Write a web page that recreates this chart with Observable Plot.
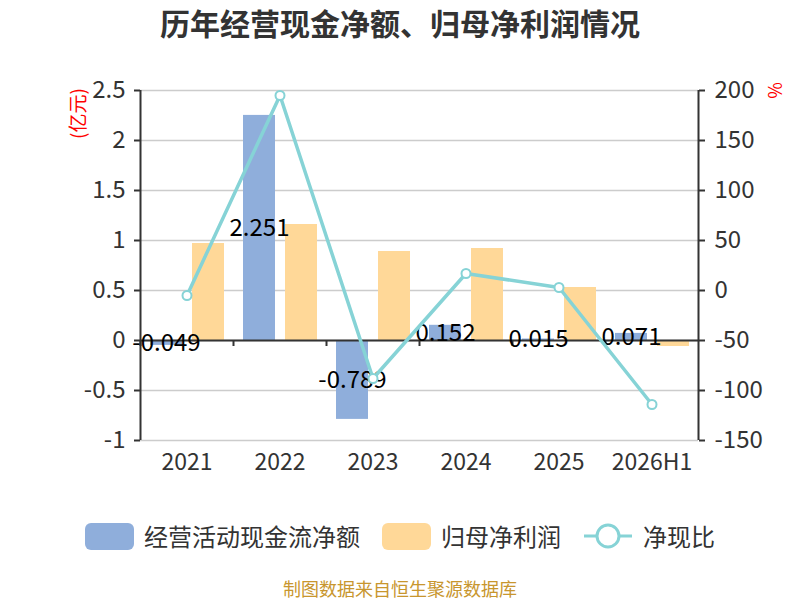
<!DOCTYPE html>
<html>
<head>
<meta charset="utf-8">
<script src="https://cdn.jsdelivr.net/npm/d3@7"></script>
<script src="https://cdn.jsdelivr.net/npm/@observablehq/plot@0.6"></script>
<style>
  body { margin: 0; background: #fff; font-family: "Noto Sans CJK SC", "Noto Sans", sans-serif; }
  #wrap { position: relative; width: 800px; height: 600px; overflow: hidden; }
  #title { position: absolute; top: 2px; left: 0; width: 800px; text-align: center; font-size: 30px; font-weight: bold; color: #333; line-height: 40px; }
  #chart { position: absolute; top: 60px; left: 0; }
  #legend { position: absolute; top: 518px; left: 0; width: 800px; display: flex; justify-content: center; align-items: center; font-size: 24px; color: #333; line-height: 36px; }
  .item { display: flex; align-items: center; }
  .box { width: 49px; height: 27px; border-radius: 6px; margin-right: 10px; }
  .gap { width: 22px; }
  #footer { position: absolute; top: 578px; left: 0; width: 800px; text-align: center; font-size: 18px; color: #C8962E; line-height: 20px; }
</style>
</head>
<body>
<div id="wrap">
  <div id="title">历年经营现金净额、归母净利润情况</div>
  <div id="chart"></div>
  <div id="legend"></div>
  <div id="footer">制图数据来自恒生聚源数据库</div>
</div>
<script>
const years = ["2021", "2022", "2023", "2024", "2025", "2026H1"];
const cashFlow = [-0.049, 2.251, -0.789, 0.152, 0.015, 0.071];
const netProfit = [0.97, 1.16, 0.89, 0.92, 0.53, -0.06];
const cashRatio = [-5, 195, -88, 17, 3, -114];
const leftTicks = [-1, -0.5, 0, 0.5, 1, 1.5, 2, 2.5];
const seriesNames = ["经营活动现金流净额", "归母净利润", "净现比"];

const BLUE = "#8FAEDB", ORANGE = "#FFD898", TEAL = "#86D3D6";

const data = years.map((y, i) => ({year: y, cash: cashFlow[i], profit: netProfit[i], ratio: cashRatio[i]}));
// right axis (-150..200) mapped onto left axis (-1..2.5)
const toLeft = v => v / 100 + 0.5;
const half = (800 - 140 - 102) / years.length / 2;

const chart = Plot.plot({
  width: 800, height: 420,
  marginTop: 30, marginBottom: 40, marginLeft: 140, marginRight: 102,
  style: {fontFamily: "'Noto Sans CJK SC', 'Noto Sans', sans-serif", color: "#333", background: "transparent"},
  x: {domain: years, padding: 0, axis: null, label: null},
  y: {domain: [-1, 2.5], axis: null, label: null},
  marks: [
    Plot.gridY(leftTicks, {stroke: "#ccc", strokeOpacity: 1, strokeWidth: 1.5}),
    Plot.barY(data, {x: "year", y: "cash", fill: BLUE, insetLeft: 10, insetRight: 51}),
    Plot.barY(data, {x: "year", y: "profit", fill: ORANGE, insetLeft: 52, insetRight: 9}),
    Plot.ruleY([0], {stroke: "#333", strokeWidth: 2}),
    Plot.ruleX(years, {x: d => d, dx: -half, y1: 0, y2: -0.06, stroke: "#333", strokeWidth: 2}),
    Plot.ruleX([years[0]], {x: d => d, dx: -half, y1: -1, y2: 2.5, stroke: "#333", strokeWidth: 2}),
    Plot.ruleX([years[years.length - 1]], {x: d => d, dx: half, y1: -1, y2: 2.5, stroke: "#333", strokeWidth: 2}),
    Plot.axisY(leftTicks, {anchor: "left", label: null, tickSize: 6, tickPadding: 9, fontSize: 24, stroke: "#333", strokeWidth: 2, fill: "#333", tickFormat: d => String(d)}),
    Plot.axisY(leftTicks, {anchor: "right", label: null, tickSize: 6, tickPadding: 10, fontSize: 24, stroke: "#333", strokeWidth: 2, fill: "#333", tickFormat: d => String(Math.round((d - 0.5) * 100))}),
    Plot.axisX({anchor: "bottom", label: null, tickSize: 0, tickPadding: 13, fontSize: 23, fill: "#333"}),
    Plot.text(data, {x: "year", y: d => d.cash / 2, text: d => d.cash.toFixed(3), dx: -20.5, fontSize: 24, fill: "#000"}),
    Plot.line(data, {x: "year", y: d => toLeft(d.ratio), stroke: TEAL, strokeWidth: 3.5}),
    Plot.dot(data, {x: "year", y: d => toLeft(d.ratio), r: 4.5, fill: "#fff", stroke: TEAL, strokeWidth: 2}),
    Plot.text(["(亿元)"], {frameAnchor: "top-left", textAnchor: "middle", lineAnchor: "middle", dx: -62, dy: 23, rotate: -90, fill: "red", fontSize: 19}),
    Plot.text(["%"], {frameAnchor: "top-right", textAnchor: "middle", lineAnchor: "middle", dx: 78, dy: 0, rotate: -90, fill: "red", fontSize: 18})
  ]
});
document.getElementById("chart").appendChild(chart);

const legend = document.getElementById("legend");
const colors = [BLUE, ORANGE];
seriesNames.forEach((name, i) => {
  if (i > 0) { const g = document.createElement("div"); g.className = "gap"; legend.appendChild(g); }
  const item = document.createElement("div");
  item.className = "item";
  if (i < 2) {
    item.innerHTML = `<div class="box" style="background:${colors[i]}"></div><span>${name}</span>`;
  } else {
    item.innerHTML = `<svg width="50" height="28" style="margin-right:10px"><line x1="1" y1="14" x2="49" y2="14" stroke="${TEAL}" stroke-width="3"/><circle cx="25" cy="14" r="11" fill="#fff" stroke="${TEAL}" stroke-width="3"/></svg><span>${name}</span>`;
  }
  legend.appendChild(item);
});
</script>
</body>
</html>
